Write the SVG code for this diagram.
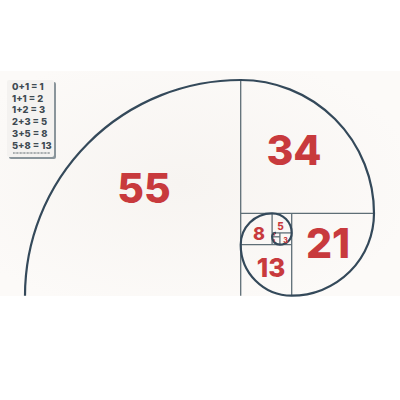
<svg xmlns="http://www.w3.org/2000/svg" width="400" height="400" viewBox="0 0 400 400">
<defs>
<radialGradient id="bg" cx="0.45" cy="0.5" r="0.6">
<stop offset="0" stop-color="#f7f4f1"/>
<stop offset="1" stop-color="#fcfaf8"/>
</radialGradient>
</defs>
<style>
.grid{fill:none;stroke:#5e6e76;stroke-width:1.3}
.sp{fill:none;stroke:#34495a;stroke-width:2.2}
.num{font-family:Inter,"DejaVu Sans",sans-serif;font-weight:800;fill:#c83a3d;text-anchor:middle}
.eq{font-family:Inter,"DejaVu Sans",sans-serif;font-weight:800;font-size:9.4px;fill:#3e4a52}
</style>
<rect x="0" y="0" width="400" height="400" fill="#ffffff"/>
<rect x="0" y="71" width="400" height="225" fill="url(#bg)"/>
<g id="squares">
<line class="grid" x1="240.7" y1="80" x2="240.7" y2="295.7"/>
<line class="grid" x1="240.7" y1="213.3" x2="374" y2="213.3"/>
<line class="grid" x1="291.7" y1="213.3" x2="291.7" y2="295.7"/>
<line class="grid" x1="240.7" y1="244.7" x2="291.7" y2="244.7"/>
<line class="grid" x1="272.1" y1="213.3" x2="272.1" y2="244.7"/>
<line class="grid" x1="272.1" y1="232.9" x2="291.7" y2="232.9"/>
<line class="grid" x1="279.9" y1="232.9" x2="279.9" y2="244.7"/>
<line class="grid" x1="272.1" y1="236.8" x2="279.9" y2="236.8"/>
</g>
<g id="spiral">
<path class="sp" d="M25,295.7 A215.7,215.7 0 0 1 240.7,80 A133.3,133.3 0 0 1 374,213.3 A82.3,82.4 0 0 1 291.7,295.7 A51,51 0 0 1 240.7,244.7 A31.4,31.4 0 0 1 272.1,213.3 A19.6,19.6 0 0 1 291.7,232.9 A11.8,11.8 0 0 1 279.9,244.7 A7.8,7.8 0 0 1 272.1,236.8 A3.9,3.9 0 0 1 276,232.9"/>
</g>
<g id="labels">
<text class="num" x="144" y="203" font-size="41">55</text>
<text class="num" x="294" y="165" font-size="41">34</text>
<text class="num" x="328" y="258" font-size="41">21</text>
<text class="num" x="271" y="277" font-size="26">13</text>
<text class="num" x="259" y="240" font-size="18">8</text>
<text class="num" x="280.5" y="230" font-size="10">5</text>
<text class="num" x="285.5" y="242.5" font-size="7">3</text>
<text class="num" x="274.2" y="236" font-size="4">1</text>
<text class="num" x="274.2" y="242" font-size="4">1</text>
</g>
<g id="legend">
<rect x="9" y="82" width="47" height="77" rx="2" fill="#8a959b"/>
<rect x="7" y="80" width="47" height="77" rx="2" fill="#f4f2f0"/>
<text class="eq" x="12" y="90">0+1 = 1</text>
<text class="eq" x="12" y="101.7">1+1 = 2</text>
<text class="eq" x="12" y="113.4">1+2 = 3</text>
<text class="eq" x="12" y="125.1">2+3 = 5</text>
<text class="eq" x="12" y="136.8">3+5 = 8</text>
<text class="eq" x="12" y="148.5">5+8 = 13</text>
<line x1="13" y1="153" x2="50" y2="153" stroke="#3e4a52" stroke-width="1.2" stroke-dasharray="0.8 0.6"/>
</g>
</svg>
